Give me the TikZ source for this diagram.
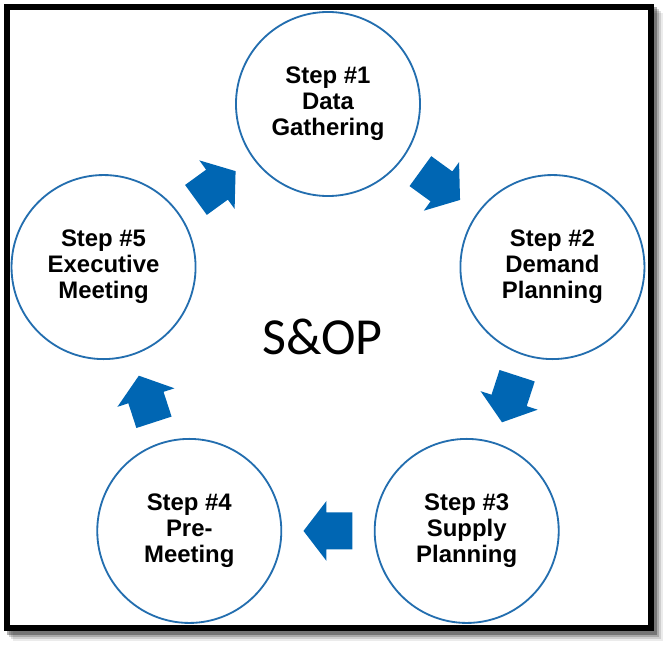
\documentclass[tikz,border=0pt]{standalone}
\usepackage{fontspec}
\setmainfont{Liberation Sans}
\newfontfamily\titlefont{Carlito}
\usetikzlibrary{calc}
\definecolor{sopblue}{RGB}{0,102,179}
\definecolor{sopring}{RGB}{35,110,175}
\tikzset{
  stepcircle/.style={circle, draw=sopring, line width=1.3pt, fill=white,
                     minimum size=4.6cm, inner sep=0pt, align=center,
                     font=\fontsize{17}{18.5}\selectfont\bfseries},
  blockarrow/.style={fill=sopblue},
  frameline/.style={line width=0.15cm, black},
}
\begin{document}
\begin{tikzpicture}[x=0.025cm, y=0.025cm]
  \useasboundingbox (-328,-305) rectangle (339,340);
  \fill[white] (-328,-305) rectangle (339,340);
  % frame with shadow
  \foreach \d/\op in {9/0.08,7/0.12,5/0.18,3/0.3}
    \fill[black, opacity=\op] (-324+\d,-292-\d) rectangle (326+\d,336-\d);
  \fill[white] (-318,-285.5) rectangle (320,330);
  \draw[frameline] (-321,-288.5) rectangle (323,333);
  % steps
  \foreach \i/\txt in {1/{Step \#1\\Data\\Gathering},
                       2/{Step \#2\\Demand\\Planning},
                       3/{Step \#3\\Supply\\Planning},
                       4/{Step \#4\\Pre-\\Meeting},
                       5/{Step \#5\\Executive\\Meeting}} {
    \pgfmathsetmacro{\ang}{90-72*(\i-1)}
    \node[stepcircle] (s\i) at (\ang:236) {\txt};
  }
  % block arrows between steps
  \foreach \i/\j in {1/2,2/3,3/4,4/5,5/1} {
    \pgfmathsetmacro{\dir}{-36-72*(\i-1)}
    \fill[blockarrow, shift={($(s\i)!0.5!(s\j)$)}, rotate=\dir]
      (-24.5,-18.5) -- (1.5,-18.5) -- (1.5,-30) -- (24.5,0)
      -- (1.5,30) -- (1.5,18.5) -- (-24.5,18.5) -- cycle;
  }
  \node[font=\titlefont\fontsize{37}{40}\selectfont] (sop) at (-5.5,3) {S\&OP};
\end{tikzpicture}
\end{document}
